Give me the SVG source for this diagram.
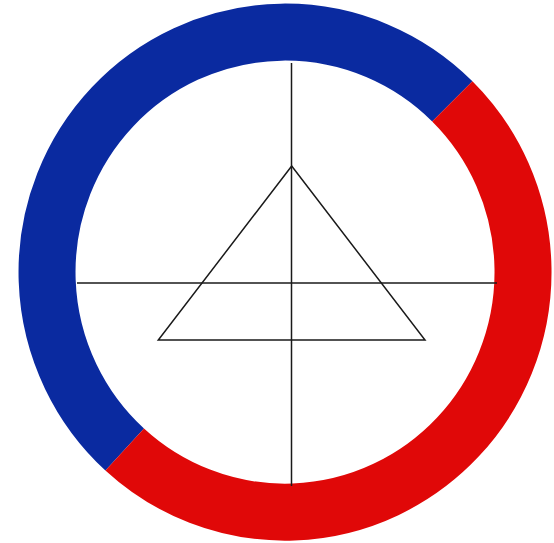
<svg xmlns="http://www.w3.org/2000/svg" width="554" height="543" viewBox="0 0 554 543">
<style>
.ring{fill:none;stroke-width:57;stroke-linecap:butt}
.ln{fill:none;stroke:#1a1a1a;stroke-width:1.5}
</style>
<rect width="554" height="543" fill="#ffffff"/>
<g id="ring">
<path class="ring" stroke="#0a2aa0" d="M124.7,449.5 A238,240 0 1 1 452.3,101.4"/>
<path class="ring" stroke="#e00808" d="M452.3,101.4 A238,240 0 0 1 124.7,449.5"/>
</g>
<g id="axes">
<line class="ln" x1="77" y1="283" x2="497" y2="283"/>
<line class="ln" x1="291.5" y1="63" x2="291.5" y2="486"/>
</g>
<g id="triangle">
<polygon class="ln" points="291.7,166 158.3,340 425,340"/>
</g>
</svg>
